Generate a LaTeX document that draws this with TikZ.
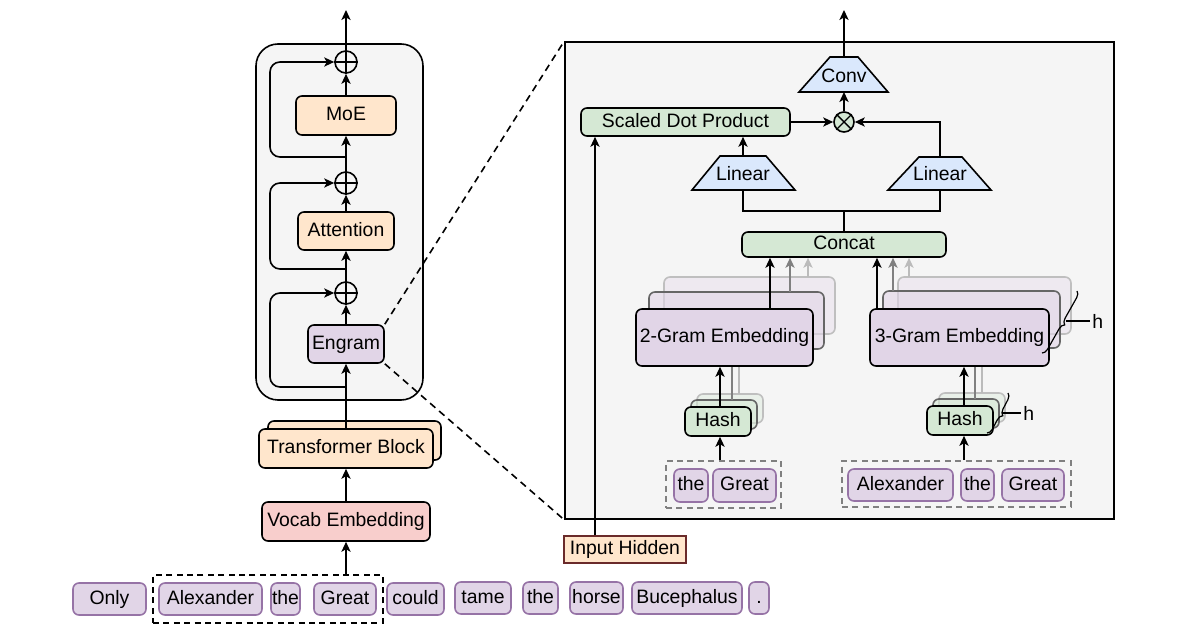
\documentclass[tikz,border=0pt]{standalone}
\usepackage{fontspec}
\setmainfont{Liberation Sans}
\usetikzlibrary{arrows.meta,fit,decorations.pathreplacing,calc}
\definecolor{cOr}{HTML}{FFE6CC}
\definecolor{cPk}{HTML}{F8CECC}
\definecolor{cPu}{HTML}{E1D5E7}
\definecolor{cPuD}{HTML}{9673A6}
\definecolor{cGr}{HTML}{D5E8D4}
\definecolor{cBl}{HTML}{DAE8FC}
\definecolor{cBg}{HTML}{F5F5F5}
\definecolor{cIH}{HTML}{6A2A2A}
\definecolor{gMid}{HTML}{808080}
\definecolor{gLt}{HTML}{BBBBBB}
% box node from corner pixels: \bn[style](name)(x1,y1)(x2,y2){text}
\def\bn[#1](#2)(#3,#4)(#5,#6)#7{\node[#1,minimum width={(#5-#3)*0.5pt},minimum height={(#6-#4)*0.5pt}] (#2) at ({(#3+#5)/2},{(#4+#6)/2}) {#7};}
\begin{document}
\begin{tikzpicture}[x=0.5pt,y=-0.5pt,
  font=\fontsize{9.7}{11}\selectfont,
  ln/.style={line width=0.8pt},
  arr/.style={line width=0.8pt,-{Stealth[length=5pt,width=4.6pt,inset=1.3pt]}},
  bx/.style={draw=black,line width=0.8pt,rounded corners=3pt,inner sep=0pt,text height=7pt,text depth=1.9pt},
  obox/.style={bx,fill=cOr},
  pbox/.style={bx,fill=cPu},
  gbox/.style={bx,fill=cGr},
  tok/.style={draw=cPuD,line width=0.8pt,rounded corners=3pt,inner sep=0pt,fill=cPu,text height=7pt,text depth=1.9pt},
  pback/.style={bx,fill=cPu,fill opacity=0.6,draw=black!60},
  pback2/.style={bx,fill=cPu,fill opacity=0.35,draw=black!25},
  gback/.style={bx,fill=cGr,fill opacity=0.6,draw=black!60},
  gback2/.style={bx,fill=cGr,fill opacity=0.35,draw=black!25},
  panel/.style={draw=black,line width=0.8pt,fill=cBg,inner sep=0pt},
  circ/.style={circle,draw=black,line width=0.8pt,inner sep=0pt},
  trap/.style={draw=black,line width=0.8pt,fill=cBl},
  grpbox/.style={draw=black,line width=0.8pt,dash pattern=on 3pt off 2.2pt,inner sep=0pt},
  grpgray/.style={draw=black!50,line width=0.8pt,dash pattern=on 3pt off 2.2pt,inner sep=0pt},
  zoomln/.style={line width=0.8pt,dash pattern=on 3.5pt off 2.5pt},
  brc/.style={decorate,decoration={brace,amplitude=3pt},line width=0.6pt}
]
\useasboundingbox (0,0) rectangle (1200,630);

% ================= LEFT PANEL =================
\bn[panel,rounded corners=11pt](lp)(256,44)(423,400){}

\node[circ,minimum size=11pt] (p1) at (346,62) {};
\node[circ,minimum size=11pt] (p2) at (346,183) {};
\node[circ,minimum size=11pt] (p3) at (346,293) {};
\foreach \p in {p1,p2,p3}{\draw[ln] (\p.north) -- (\p.south) (\p.west) -- (\p.east);}

\bn[obox](moe)(296,96)(396,135){MoE}
\bn[obox](att)(298,212)(394,250){Attention}
\bn[pbox](eng)(308,325)(384,363){Engram}

\bn[obox](tbb)(268,421)(441,460){}
\bn[obox](tb)(259,429)(433,468){Transformer Block}
\bn[bx,fill=cPk](voc)(262,502)(430,541){Vocab Embedding}

\coordinate (outL) at (346,10);
\coordinate (s1) at (346,157);
\coordinate (s2) at (346,269);
\coordinate (s3) at (346,387);
\coordinate (lx) at (270,0);

\draw[arr] (p1.north) -- (outL);
\draw[arr] (moe.north) -- (p1.south);
\draw[arr] (p2.north) -- (moe.south);
\draw[arr] (att.north) -- (p2.south);
\draw[arr] (p3.north) -- (att.south);
\draw[arr] (eng.north) -- (p3.south);
\draw[arr] (tb.north) -- (eng.south);
\draw[arr] (voc.north) -- (tb.south);

\draw[arr,rounded corners=5pt] (s1) -- (s1 -| lx) -- (lx |- p1.west) -- (p1.west);
\draw[arr,rounded corners=5pt] (s2) -- (s2 -| lx) -- (lx |- p2.west) -- (p2.west);
\draw[arr,rounded corners=5pt] (s3) -- (s3 -| lx) -- (lx |- p3.west) -- (p3.west);

% tokens
\bn[tok](t1)(73,583)(146,615){Only}
\bn[tok](t2)(159,583)(262,615){Alexander}
\bn[tok](t3)(271,583)(300,615){the}
\bn[tok](t4)(314,583)(376,615){Great}
\bn[tok](t5)(387,583)(444,615){could}
\bn[tok](t6)(455,582)(511,614){tame}
\bn[tok](t7)(523,582)(558,614){the}
\bn[tok](t8)(570,582)(623,614){horse}
\bn[tok](t9)(632,582)(742,614){Bucephalus}
\bn[tok](t10)(749,582)(769,614){.}
\bn[grpbox](g0)(153,575)(383,623){}
\draw[arr] (g0.north -| voc.south) -- (voc.south);

% ================= RIGHT PANEL =================
\bn[panel](rp)(565,42)(1114,519){}
\draw[zoomln] (eng.north east) -- (rp.north west);
\draw[zoomln] (eng.south east) -- (rp.south west);

% Conv
\draw[trap] (799,92) -- (830,57) -- (858,57) -- (888,92) -- cycle;
\node[inner sep=0pt] (conv) at (844,76) {Conv};
\coordinate (convT) at (844,57);
\coordinate (convB) at (844,92);
\coordinate (outR) at (844,10);
\draw[arr] (convT) -- (outR);

% otimes
\node[circ,fill=cGr,minimum size=10pt] (ox) at (844,122) {};
\draw[line width=0.7pt] (ox.north west) -- (ox.south east) (ox.north east) -- (ox.south west);
\draw[arr] (ox.north) -- (convB);

% Scaled dot product
\bn[gbox](sdp)(581,108)(790,136){Scaled Dot Product}
\draw[arr] (sdp.east) -- (ox.west);

% Linear left
\draw[trap] (692,190) -- (720,156) -- (766,156) -- (795,190) -- cycle;
\node[inner sep=0pt] (linL) at (743,174) {Linear};
\coordinate (linLt) at (743,156);
\coordinate (linLb) at (743,190);
\draw[arr] (linLt) -- (linLt |- sdp.south);

% Linear right
\draw[trap] (888,190) -- (919,157) -- (962,157) -- (991,190) -- cycle;
\node[inner sep=0pt] (linR) at (940,174) {Linear};
\coordinate (linRt) at (940,157);
\coordinate (linRb) at (940,190);
\draw[arr] (linRt) |- (ox.east);

% Concat
\bn[gbox](cc)(742,232)(946,257){Concat}
\coordinate (jn) at (844,211);
\draw[ln] (linLb) |- (jn) -| (linRb);
\draw[ln] (cc.north) -- (jn);

% Input hidden
\bn[bx,rounded corners=0pt,draw=cIH,fill=cOr](ih)(564,536)(686,563){Input Hidden}
\coordinate (ihx) at (595,0);
\draw[arr] (ih.north -| ihx) -- (sdp.south -| ihx);

% ---- 2-gram branch ----
\bn[pback2](e2b2)(664,277)(835,334){}
\bn[pback](e2b1)(649,292)(824,349){}
\coordinate (a2c) at (808,277);
\coordinate (a2b) at (790,292);
\draw[arr,draw=gLt] (a2c) -- (a2c |- cc.south);
\draw[arr,draw=gMid] (a2b) -- (a2b |- cc.south);
\bn[pbox](e2)(636,309)(813,366){2-Gram Embedding}
\coordinate (a2a) at (770,309);
\draw[arr] (a2a) -- (a2a |- cc.south);

\bn[gback2](h2b2)(697,394)(763,423){}
\bn[gback](h2b1)(691,400)(757,429){}
\coordinate (l2c) at (739,394);
\coordinate (l2b) at (732,400);
\draw[ln,draw=gLt] (l2c) -- (l2c |- e2.south);
\draw[ln,draw=gMid] (l2b) -- (l2b |- e2.south);
\bn[gbox](h2)(685,407)(751,436){Hash}
\coordinate (h2x) at (720,0);
\draw[arr] (h2.north -| h2x) -- (e2.south -| h2x);

\bn[tok](u1)(674,469)(708,502){the}
\bn[tok](u2)(713,469)(776,502){Great}
\bn[grpgray](g2)(666,461)(781,508){}
\draw[arr] (g2.north -| h2x) -- (h2.south -| h2x);

% ---- 3-gram branch ----
\bn[pback2](e3b2)(898,277)(1071,334){}
\bn[pback](e3b1)(883,291)(1060,348){}
\coordinate (a3c) at (909,277);
\coordinate (a3b) at (893,291);
\draw[arr,draw=gLt] (a3c) -- (a3c |- cc.south);
\draw[arr,draw=gMid] (a3b) -- (a3b |- cc.south);
\bn[pbox](e3)(870,309)(1049,366){3-Gram Embedding}
\coordinate (a3a) at (877,309);
\draw[arr] (a3a) -- (a3a |- cc.south);

\bn[gback2](h3b2)(939,393)(1005,422){}
\bn[gback](h3b1)(933,399)(999,428){}
\coordinate (l3c) at (982,393);
\coordinate (l3b) at (975,399);
\draw[ln,draw=gLt] (l3c) -- (l3c |- e3.south);
\draw[ln,draw=gMid] (l3b) -- (l3b |- e3.south);
\bn[gbox](h3)(927,406)(993,435){Hash}
\coordinate (h3x) at (964,0);
\draw[arr] (h3.north -| h3x) -- (e3.south -| h3x);

\bn[tok](v1)(848,469)(953,501){Alexander}
\bn[tok](v2)(961,469)(994,501){the}
\bn[tok](v3)(1002,469)(1064,501){Great}
\bn[grpgray](g3)(842,461)(1071,507){}
\draw[arr] (g3.north -| h3x) -- (h3.south -| h3x);

% braces with h
\draw[brc] (1077,291) -- (1042,353);
\node[anchor=west,inner sep=1pt] (hA) at (1090,321) {h};
\coordinate (bA) at (1066,321);
\draw[line width=0.6pt] (bA) -- (hA.west);

\draw[brc] (1008,393) -- (987,433);
\node[anchor=west,inner sep=1pt] (hB) at (1021,413) {h};
\coordinate (bB) at (1002,413);
\draw[line width=0.6pt] (bB) -- (hB.west);

\end{tikzpicture}
\end{document}
